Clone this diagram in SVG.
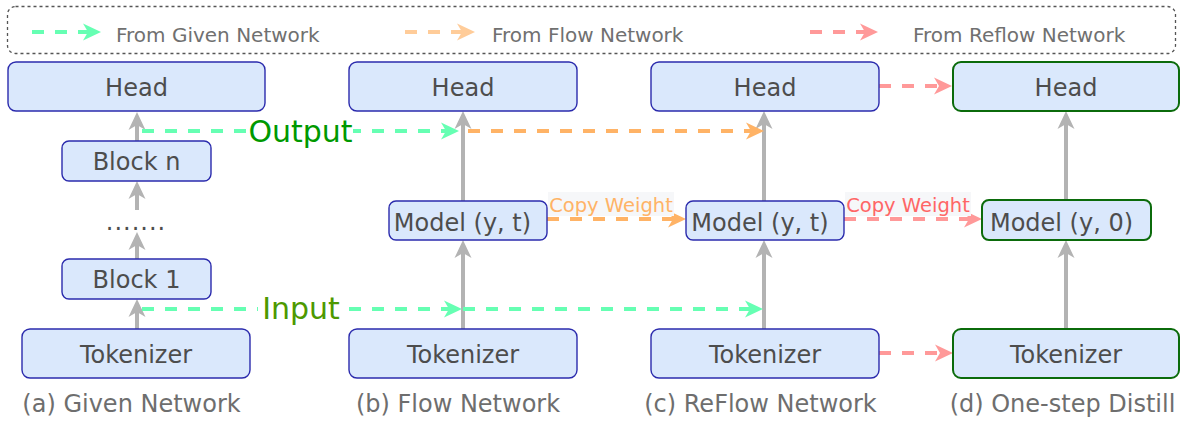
<svg xmlns="http://www.w3.org/2000/svg" width="1182" height="426" viewBox="0 0 1182 426">
  <style>
    text { font-family: "DejaVu Sans", Verdana, sans-serif; }
    .box { fill: #dae8fc; stroke: #2b2bad; stroke-width: 1.4; }
    .boxg { fill: #dae8fc; stroke: #0b6b0b; stroke-width: 2; }
    .nt { font-size: 24px; fill: #4d4d4d; text-anchor: middle; }
    .cap { font-size: 24px; fill: #6e6e6e; text-anchor: middle; }
    .leg { font-size: 20px; fill: #707070; }
    .up { stroke: #b3b3b3; stroke-width: 4; fill: none; marker-end: url(#mGray); }
    .dash { stroke-width: 4; fill: none; stroke-dasharray: 12 11; }
    .g { stroke: #66ffb3; marker-end: url(#mGreen); }
    .o { stroke: #ffb366; marker-end: url(#mOrange); }
    .r { stroke: #ff9999; marker-end: url(#mRed); }
    .ol { stroke: #ffcc99; marker-end: url(#mOrangeL); }
  </style>
  <defs>
    <marker id="mGray" markerUnits="userSpaceOnUse" viewBox="-6 -10 20 20" markerWidth="20" markerHeight="20" refX="0" refY="0" orient="auto" overflow="visible">
      <path d="M-5,-8.5 L13,0 L-5,8.5 L0,0 Z" fill="#b3b3b3"/>
    </marker>
    <marker id="mGreen" markerUnits="userSpaceOnUse" viewBox="-6 -10 20 20" markerWidth="20" markerHeight="20" refX="0" refY="0" orient="auto" overflow="visible">
      <path d="M-5,-8.5 L13,0 L-5,8.5 L0,0 Z" fill="#66ffb3"/>
    </marker>
    <marker id="mOrange" markerUnits="userSpaceOnUse" viewBox="-6 -10 20 20" markerWidth="20" markerHeight="20" refX="0" refY="0" orient="auto" overflow="visible">
      <path d="M-5,-8.5 L13,0 L-5,8.5 L0,0 Z" fill="#ffb366"/>
    </marker>
    <marker id="mOrangeL" markerUnits="userSpaceOnUse" viewBox="-6 -10 20 20" markerWidth="20" markerHeight="20" refX="0" refY="0" orient="auto" overflow="visible">
      <path d="M-5,-8.5 L13,0 L-5,8.5 L0,0 Z" fill="#ffcc99"/>
    </marker>
    <marker id="mRed" markerUnits="userSpaceOnUse" viewBox="-6 -10 20 20" markerWidth="20" markerHeight="20" refX="0" refY="0" orient="auto" overflow="visible">
      <path d="M-5,-8.5 L13,0 L-5,8.5 L0,0 Z" fill="#ff9999"/>
    </marker>
  </defs>

  <rect width="1182" height="426" fill="#ffffff"/>

  <!-- legend -->
  <g id="legend">
    <rect x="7.5" y="6.5" width="1168" height="47" rx="8" fill="none" stroke="#555555" stroke-width="1.3" stroke-dasharray="3 3"/>
    <path class="dash g" d="M32,32 H88"/>
    <text class="leg" x="116" y="42">From Given Network</text>
    <path class="dash ol" d="M405,32 H462"/>
    <text class="leg" x="492" y="42">From Flow Network</text>
    <path class="dash r" d="M810,32 H865"/>
    <text class="leg" x="913" y="42">From Reflow Network</text>
  </g>

  <!-- connectors -->
  <g id="connectors">
    <!-- (a) given network stack -->
    <path class="up" d="M137,141 V125"/>
    <path class="up" d="M137,210 V194"/>
    <path class="up" d="M137,259 V245"/>
    <path class="up" d="M137,329 V312"/>
    <!-- (b) flow network -->
    <path class="up" d="M463,201 V124"/>
    <path class="up" d="M463,329 V253"/>
    <!-- (c) reflow network -->
    <path class="up" d="M764,201 V124"/>
    <path class="up" d="M764,329 V253"/>
    <!-- (d) one-step distill -->
    <path class="up" d="M1066,200 V124"/>
    <path class="up" d="M1066,329 V253"/>

    <!-- output / input transfers -->
    <path class="dash g" d="M142,131 H446"/>
    <path class="dash o" d="M468,131 H751"/>
    <path class="dash g" d="M142,309 H449"/>
    <path class="dash g" d="M463,309 H750"/>

    <!-- weight copies -->
    <path class="dash o" d="M547,219 H673"/>
    <path class="dash r" d="M844,219 H969"/>

    <!-- reflow to distill -->
    <path class="dash r" d="M879,86 H939"/>
    <path class="dash r" d="M879,353 H940"/>

    <!-- edge labels -->
    <rect x="248" y="115" width="105" height="33" fill="#ffffff"/>
    <text x="300.5" y="142" font-size="30" fill="#009900" text-anchor="middle">Output</text>
    <rect x="258" y="292" width="86" height="32" fill="#ffffff"/>
    <text x="301" y="319" font-size="30" fill="#4d9900" text-anchor="middle">Input</text>
    <rect x="548" y="192" width="126" height="24" fill="#f6f7f9"/>
    <text x="611" y="211.5" font-size="19.5" fill="#ffb366" text-anchor="middle">Copy Weight</text>
    <rect x="845" y="192" width="126" height="24" fill="#f6f7f9"/>
    <text x="908" y="211.5" font-size="19.5" fill="#ff6666" text-anchor="middle">Copy Weight</text>
  </g>

  <!-- (a) Given Network -->
  <g id="a-head"><rect class="box" x="8" y="62" width="257" height="49" rx="8"/><text class="nt" x="136.5" y="96">Head</text></g>
  <g id="a-block-n"><rect class="box" x="62" y="141" width="149" height="40" rx="7"/><text class="nt" x="136.5" y="170">Block n</text></g>
  <g id="a-dots"><text class="nt" x="136" y="230" letter-spacing="1">.......</text></g>
  <g id="a-block-1"><rect class="box" x="62" y="259" width="149" height="40" rx="7"/><text class="nt" x="136.5" y="288">Block 1</text></g>
  <g id="a-tokenizer"><rect class="box" x="22" y="329" width="228" height="49" rx="8"/><text class="nt" x="136" y="363">Tokenizer</text></g>
  <text class="cap" x="131.5" y="412">(a) Given Network</text>

  <!-- (b) Flow Network -->
  <g id="b-head"><rect class="box" x="349" y="62" width="228" height="49" rx="8"/><text class="nt" x="463" y="96">Head</text></g>
  <g id="b-model"><rect class="box" x="389" y="201" width="158" height="39" rx="7"/><text class="nt" x="462.5" y="231">Model (y, t)</text></g>
  <g id="b-tokenizer"><rect class="box" x="349" y="329" width="228" height="49" rx="8"/><text class="nt" x="463" y="363">Tokenizer</text></g>
  <text class="cap" x="458" y="412">(b) Flow Network</text>

  <!-- (c) ReFlow Network -->
  <g id="c-head"><rect class="box" x="651" y="62" width="228" height="49" rx="8"/><text class="nt" x="765" y="96">Head</text></g>
  <g id="c-model"><rect class="box" x="686" y="201" width="158" height="39" rx="7"/><text class="nt" x="760" y="231">Model (y, t)</text></g>
  <g id="c-tokenizer"><rect class="box" x="651" y="329" width="228" height="49" rx="8"/><text class="nt" x="765" y="363">Tokenizer</text></g>
  <text class="cap" x="760.5" y="412">(c) ReFlow Network</text>

  <!-- (d) One-step Distill -->
  <g id="d-head"><rect class="boxg" x="953" y="62" width="226" height="49" rx="8"/><text class="nt" x="1066" y="96">Head</text></g>
  <g id="d-model"><rect class="boxg" x="982" y="200" width="169" height="40" rx="7"/><text class="nt" x="1061.5" y="231">Model (y, 0)</text></g>
  <g id="d-tokenizer"><rect class="boxg" x="953" y="329" width="226" height="49" rx="8"/><text class="nt" x="1066" y="363">Tokenizer</text></g>
  <text class="cap" x="1062.5" y="412">(d) One-step Distill</text>
</svg>
